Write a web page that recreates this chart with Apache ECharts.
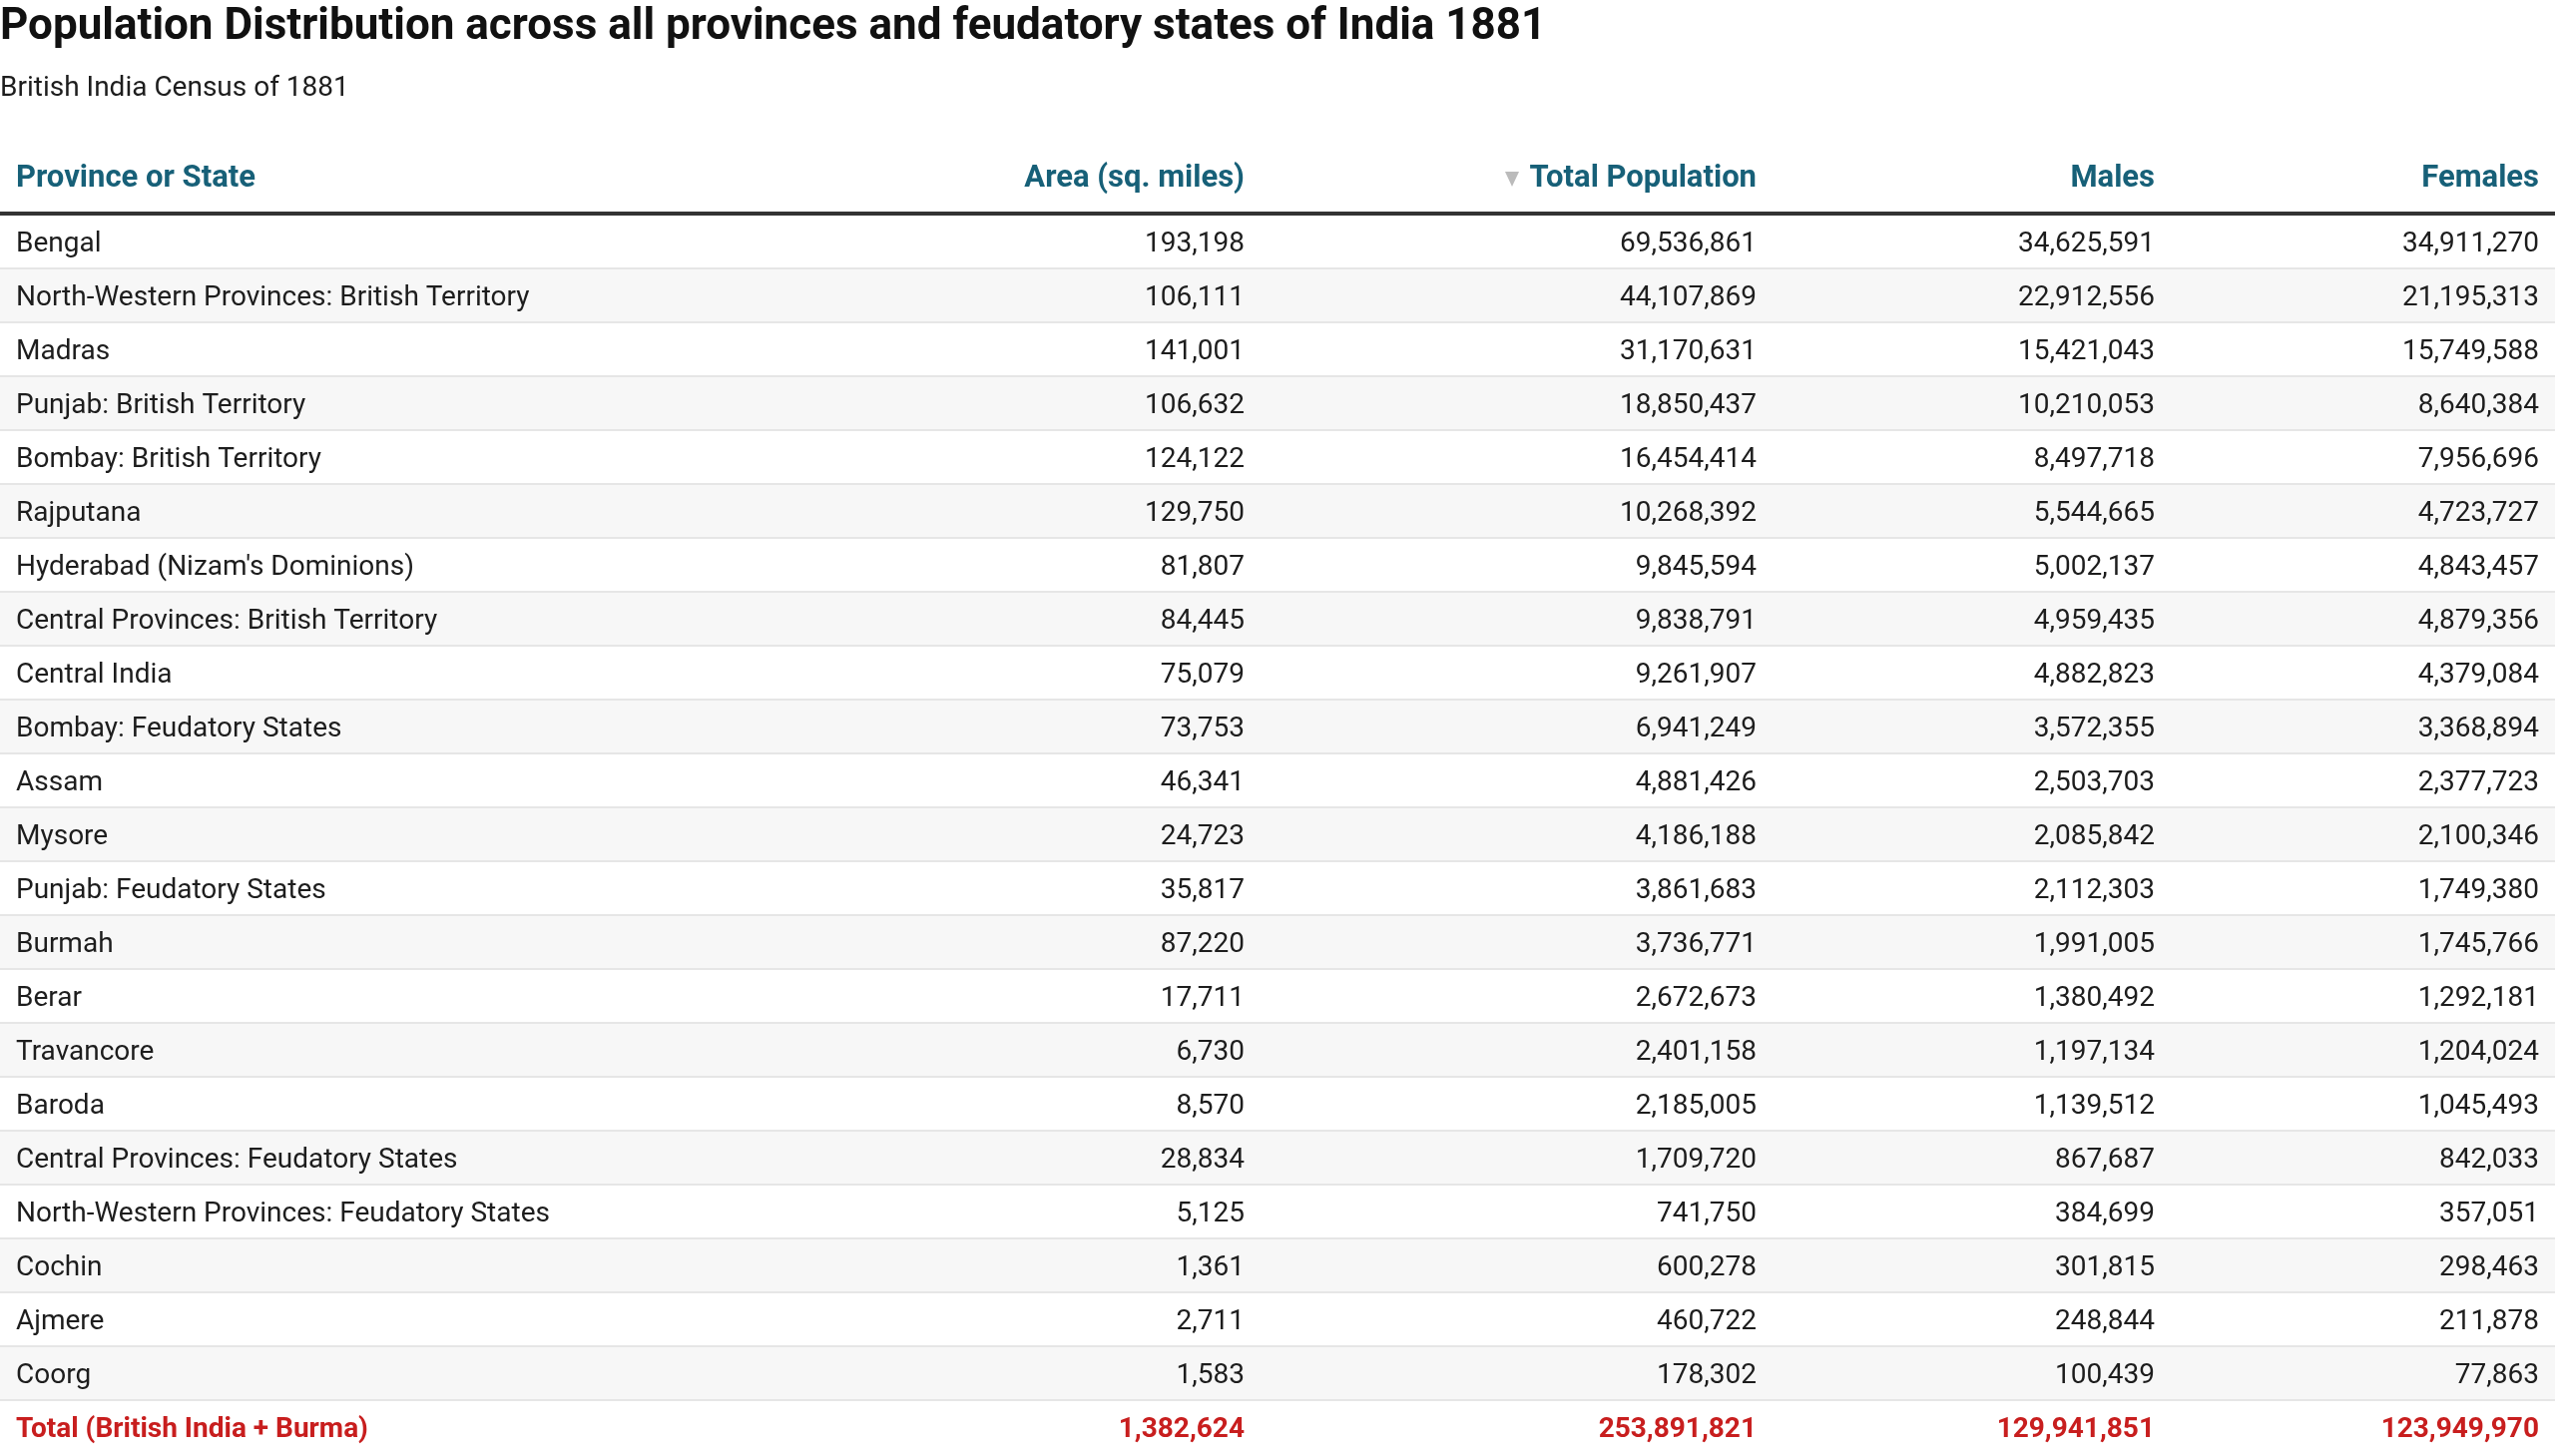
<!DOCTYPE html>
<html>
<head>
<meta charset="utf-8">
<script src="https://cdn.jsdelivr.net/npm/echarts@6/dist/echarts.min.js"></script>
<style>
html,body{margin:0;padding:0;background:#fff;}
#chart{width:2560px;height:1459px;}
</style>
</head>
<body>
<div id="chart"></div>
<script>
// ---------- DATA ----------
const titleText = 'Population Distribution across all provinces and feudatory states of India 1881';
const subtitleText = 'British India Census of 1881';
const columnHeaders = ['Province or State', 'Area (sq. miles)', 'Total Population', 'Males', 'Females'];

const provinces = [
  'Bengal',
  'North-Western Provinces: British Territory',
  'Madras',
  'Punjab: British Territory',
  'Bombay: British Territory',
  'Rajputana',
  "Hyderabad (Nizam's Dominions)",
  'Central Provinces: British Territory',
  'Central India',
  'Bombay: Feudatory States',
  'Assam',
  'Mysore',
  'Punjab: Feudatory States',
  'Burmah',
  'Berar',
  'Travancore',
  'Baroda',
  'Central Provinces: Feudatory States',
  'North-Western Provinces: Feudatory States',
  'Cochin',
  'Ajmere',
  'Coorg',
  'Total (British India + Burma)'
];
const areaSqMiles = [193198, 106111, 141001, 106632, 124122, 129750, 81807, 84445, 75079, 73753, 46341, 24723, 35817, 87220, 17711, 6730, 8570, 28834, 5125, 1361, 2711, 1583, 1382624];
const totalPopulation = [69536861, 44107869, 31170631, 18850437, 16454414, 10268392, 9845594, 9838791, 9261907, 6941249, 4881426, 4186188, 3861683, 3736771, 2672673, 2401158, 2185005, 1709720, 741750, 600278, 460722, 178302, 253891821];
const males = [34625591, 22912556, 15421043, 10210053, 8497718, 5544665, 5002137, 4959435, 4882823, 3572355, 2503703, 2085842, 2112303, 1991005, 1380492, 1197134, 1139512, 867687, 384699, 301815, 248844, 100439, 129941851];
const females = [34911270, 21195313, 15749588, 8640384, 7956696, 4723727, 4843457, 4879356, 4379084, 3368894, 2377723, 2100346, 1749380, 1745766, 1292181, 1204024, 1045493, 842033, 357051, 298463, 211878, 77863, 123949970];

// ---------- LAYOUT / STYLE ----------
const W = 2560;
const FONT = 'Roboto, "Noto Sans", sans-serif';
const nameX = 16;
const colRight = [1247, 1760, 2159, 2544];
const tableTop = 216;
const rowH = 54;
const headerY = 179;
const textShift = 3;
const textColor = '#1d1d1d';
const headColor = '#176078';
const totalColor = '#c81e1e';
const stripe = '#f7f7f7';
const sepColor = '#e6e6e6';

const fmt = v => v.toLocaleString('en-US');
const numCols = [areaSqMiles, totalPopulation, males, females];
const lastIdx = provinces.length - 1;

function txt(text, x, y, align, font, fill) {
  return {
    type: 'text',
    style: { text: text, x: x, y: y, align: align, verticalAlign: 'middle',
             textAlign: align, textVerticalAlign: 'middle', font: font, fill: fill }
  };
}

const chart = echarts.init(document.getElementById('chart'), null, { renderer: 'canvas' });
chart.setOption({
  animation: false,
  backgroundColor: '#ffffff',
  title: [
    { text: titleText, left: 0, top: 6, padding: 0,
      textStyle: { fontFamily: FONT, fontWeight: 'bold', fontSize: 44, color: '#111111' } },
    { text: subtitleText, left: 0, top: 75, padding: 0,
      textStyle: { fontFamily: FONT, fontWeight: 'normal', fontSize: 28, color: '#1d1d1d' } }
  ],
  grid: { left: 0, right: 0, top: tableTop, height: rowH * provinces.length },
  xAxis: { type: 'value', min: 0, max: W, show: false },
  yAxis: { type: 'category', data: provinces, inverse: true, show: false },
  graphic: [
    { type: 'rect', shape: { x: 0, y: tableTop - 4, width: W, height: 4 }, style: { fill: '#333333' } },
    { type: 'polygon', shape: { points: [[1508, 172], [1522, 172], [1515, 187]] }, style: { fill: '#bbbbbb' } },
    txt(columnHeaders[0], nameX, headerY, 'left', 'bold 31px ' + FONT, headColor),
    txt(columnHeaders[1], colRight[0], headerY, 'right', 'bold 31px ' + FONT, headColor),
    txt(columnHeaders[2], colRight[1], headerY, 'right', 'bold 31px ' + FONT, headColor),
    txt(columnHeaders[3], colRight[2], headerY, 'right', 'bold 31px ' + FONT, headColor),
    txt(columnHeaders[4], colRight[3], headerY, 'right', 'bold 31px ' + FONT, headColor)
  ],
  series: [{
    type: 'custom',
    coordinateSystem: 'cartesian2d',
    encode: { x: 0, y: 1 },
    data: provinces.map((p, i) => [0, i]),
    renderItem: function (params, api) {
      const idx = api.value(1);
      const c = api.coord([0, idx]);
      const bandH = api.size([0, 1])[1];
      const top = c[1] - bandH / 2;
      const midY = top + (bandH - 2) / 2 + textShift;
      const isTotal = idx === lastIdx;
      const font = (isTotal ? 'bold ' : '') + '28px ' + FONT;
      const fill = isTotal ? totalColor : textColor;
      const children = [];
      if (idx % 2 === 1) {
        children.push({ type: 'rect', shape: { x: 0, y: top, width: W, height: bandH - 2 }, style: { fill: stripe } });
      }
      if (!isTotal) {
        children.push({ type: 'rect', shape: { x: 0, y: top + bandH - 2, width: W, height: 2 }, style: { fill: sepColor } });
      }
      children.push(txt(provinces[idx], api.coord([nameX, idx])[0], midY, 'left', font, fill));
      numCols.forEach((arr, k) => {
        children.push(txt(fmt(arr[idx]), api.coord([colRight[k], idx])[0], midY, 'right', font, fill));
      });
      return { type: 'group', children: children };
    }
  }]
});
</script>
</body>
</html>
